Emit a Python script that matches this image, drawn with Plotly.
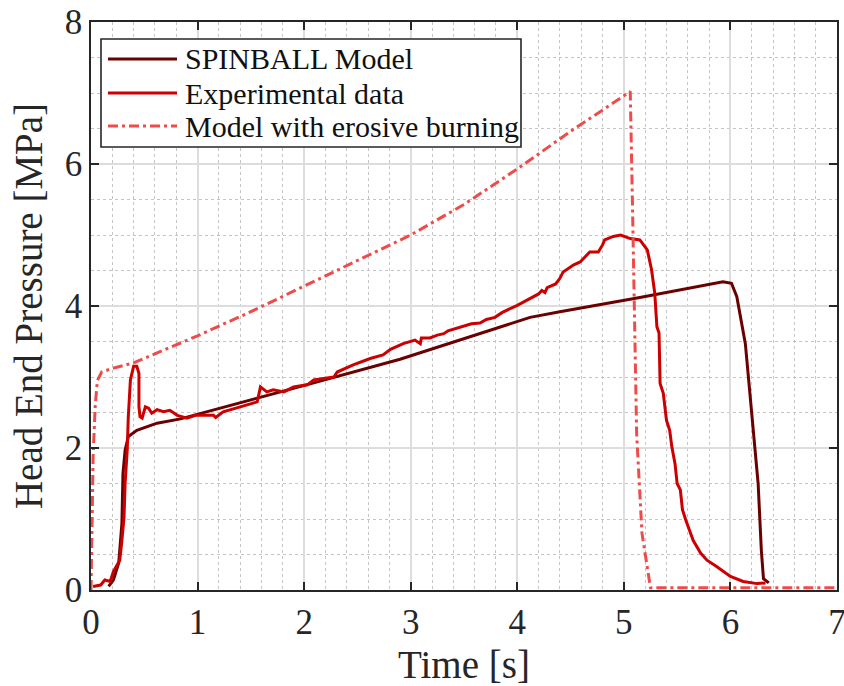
import plotly.graph_objects as go

# ---- data ----
spin_t = [0.165, 0.21, 0.26, 0.29, 0.30, 0.32, 0.35, 0.43, 0.62, 0.84, 1.9, 2.9, 4.12, 4.40, 5.15, 5.93, 6.01, 6.06, 6.14, 6.22, 6.26, 6.29, 6.31, 6.36]
spin_p = [0.05, 0.14, 0.38, 0.94, 1.64, 1.97, 2.16, 2.25, 2.35, 2.41, 2.84, 3.25, 3.84, 3.92, 4.12, 4.34, 4.32, 4.13, 3.47, 2.21, 1.50, 0.56, 0.16, 0.10]

exp_t = [0.02, 0.09, 0.13, 0.18, 0.21, 0.24, 0.27, 0.29, 0.31, 0.32, 0.34, 0.35, 0.37, 0.40, 0.43, 0.45, 0.45, 0.46, 0.48, 0.51,
         0.54, 0.57, 0.62, 0.68, 0.74, 0.81, 0.90, 0.98, 1.15, 1.17, 1.24, 1.40, 1.56, 1.59, 1.65, 1.71, 1.81, 1.90, 2.03, 2.09,
         2.28, 2.31, 2.46, 2.62, 2.74, 2.81, 2.93, 3.04, 3.09, 3.10, 3.18, 3.25, 3.31, 3.35, 3.46, 3.57, 3.65, 3.71, 3.79, 3.86,
         4.00, 4.09, 4.20, 4.23, 4.26, 4.28, 4.36, 4.40, 4.43, 4.53, 4.59, 4.68, 4.76, 4.80, 4.82, 4.90, 4.97, 5.06, 5.15, 5.22,
         5.26, 5.29, 5.31, 5.33, 5.34, 5.37, 5.40, 5.43, 5.45, 5.48, 5.50, 5.53, 5.55, 5.58, 5.61, 5.65, 5.72, 5.78, 5.87, 6.00,
         6.12, 6.25, 6.33]
exp_p = [0.05, 0.07, 0.14, 0.12, 0.26, 0.35, 0.42, 0.70, 1.03, 1.50, 1.97, 2.44, 2.96, 3.15, 3.15, 3.05, 2.58, 2.44, 2.42, 2.58,
         2.56, 2.49, 2.54, 2.51, 2.53, 2.46, 2.42, 2.46, 2.46, 2.43, 2.51, 2.58, 2.65, 2.86, 2.79, 2.82, 2.79, 2.86, 2.89, 2.96,
         3.00, 3.07, 3.17, 3.26, 3.31, 3.39, 3.47, 3.52, 3.47, 3.55, 3.55, 3.59, 3.61, 3.65, 3.70, 3.75, 3.76, 3.81, 3.84, 3.91,
         4.01, 4.08, 4.17, 4.22, 4.19, 4.26, 4.31, 4.39, 4.48, 4.58, 4.62, 4.76, 4.76, 4.86, 4.93, 4.98, 5.00, 4.95, 4.93, 4.79,
         4.51, 4.18, 3.71, 3.62, 2.91, 2.77, 2.39, 2.25, 2.02, 1.78, 1.50, 1.41, 1.13, 0.99, 0.87, 0.70, 0.52, 0.42, 0.33, 0.19,
         0.12, 0.09, 0.10]

ero_t = [0.0, 0.01, 0.02, 0.04, 0.06, 0.10, 0.2, 0.4, 1.0, 1.5, 2.0, 2.5, 3.0, 3.5, 4.0, 4.5, 5.06, 5.08, 5.12, 5.17, 5.25, 7.0]
ero_p = [0.0, 0.8, 1.9, 2.6, 2.95, 3.07, 3.12, 3.2, 3.58, 3.92, 4.28, 4.64, 5.0, 5.43, 5.93, 6.46, 7.02, 5.5, 2.2, 0.8, 0.03, 0.03]

names = ["SPINBALL Model", "Experimental data", "Model with erosive burning"]
x_ticks = [0, 1, 2, 3, 4, 5, 6, 7]
y_ticks = [0, 2, 4, 6, 8]

FONT = "Liberation Serif"
DASHDOT = "10px,4px,3px,4px"
styles = [
    dict(color="#6B0000", width=3),
    dict(color="#CC0000", width=3),
    dict(color="#EE4B4B", width=3, dash=DASHDOT),
]

fig = go.Figure()
for t, p, nm, st in zip([spin_t, exp_t, ero_t], [spin_p, exp_p, ero_p], names, styles):
    fig.add_trace(go.Scatter(x=t, y=p, mode="lines", name=nm, line=st, showlegend=False))

axis_common = dict(
    showline=True, linecolor="#262626", linewidth=1.6, mirror="ticks",
    ticks="inside", ticklen=8, tickwidth=1.6, tickcolor="#262626",
    showgrid=True, gridcolor="#DDDDDD", gridwidth=1.5,
    zeroline=False, automargin=False, ticklabeloverflow="allow",
    tickfont=dict(family=FONT, size=35, color="#262626"),
)

fig.update_xaxes(range=[0, 7], tickvals=x_ticks,
                 title=dict(text="Time [s]", font=dict(family=FONT, size=39, color="#262626"), standoff=10),
                 minor=dict(dtick=0.2, showgrid=True, gridcolor="#C4C4C4", griddash="dot", gridwidth=1, ticklen=0),
                 **axis_common)
fig.update_yaxes(range=[0, 8], tickvals=y_ticks,
                 title=dict(text="Head End Pressure [MPa]", font=dict(family=FONT, size=39, color="#262626"), standoff=10),
                 minor=dict(dtick=0.5, showgrid=True, gridcolor="#C4C4C4", griddash="dot", gridwidth=1, ticklen=0),
                 **axis_common)

# ---- legend box (drawn in paper coordinates, MATLAB-style) ----
leg_x0, leg_x1, leg_y0, leg_y1 = 0.0134, 0.5764, 0.780, 0.970
row_y = [0.9349, 0.8750, 0.8169]
samp_x0, samp_x1, text_x = 0.0228, 0.1153, 0.1233

fig.add_shape(type="rect", xref="paper", yref="paper", x0=leg_x0, x1=leg_x1, y0=leg_y0, y1=leg_y1,
              line=dict(color="#262626", width=1.6), fillcolor="white", layer="above")
for nm, st, ry in zip(names, styles, row_y):
    fig.add_shape(type="line", xref="paper", yref="paper", x0=samp_x0, x1=samp_x1, y0=ry, y1=ry,
                  line=st, layer="above")
    fig.add_annotation(xref="paper", yref="paper", x=text_x, y=ry, text=nm, showarrow=False,
                       xanchor="left", yanchor="middle",
                       font=dict(family=FONT, size=30, color="#111111"))

fig.update_layout(
    width=844, height=686,
    margin=dict(l=91, r=7, t=22, b=96),
    paper_bgcolor="white", plot_bgcolor="white",
    font=dict(family=FONT, color="#262626"),
    showlegend=False,
)

fig.write_html("out.html")
